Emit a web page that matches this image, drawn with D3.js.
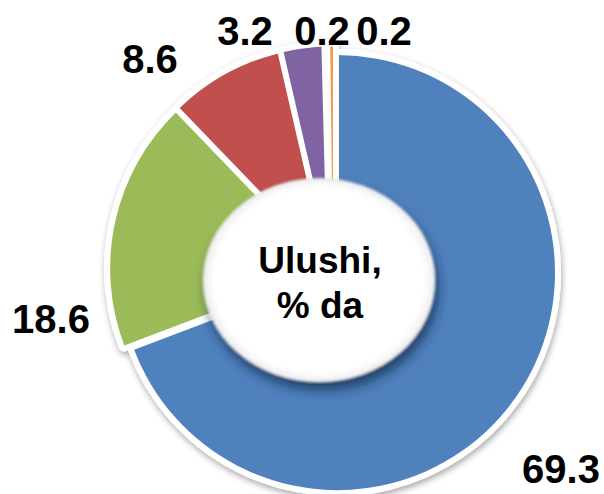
<!DOCTYPE html>
<html>
<head>
<meta charset="utf-8">
<script src="https://cdn.jsdelivr.net/npm/d3@7"></script>
<style>
  html, body { margin: 0; padding: 0; background: #fff; }
  svg { display: block; }
  text { font-family: "Liberation Sans", Arial, Helvetica, sans-serif; font-weight: bold; fill: #000; }
</style>
</head>
<body>
<svg id="chart" width="604" height="494"></svg>
<script>
// Shares, %
const values = [69.3, 18.6, 8.6, 3.2, 0.2, 0.2];
const valueLabels = ["69.3", "18.6", "8.6", "3.2", "0.2", "0.2"];
const sliceColors = ["#4F81BD", "#9BBB59", "#C0504D", "#8064A2", "#4BACC6", "#F79646"];
const centerTitle = ["Ulushi,", "% da"];

// Layout
const W = 604, H = 494;
const cx = 333, cy = 269.5, R = 217.5;
const explode = 5.5, border = 12;
const labelAnchors = [[561, 483], [51, 333], [150, 73], [245, 45], [322, 45], [384, 45]];
const hole = { x: 319, y: 280, rx: 116, ry: 102 };

const svg = d3.select("#chart");
const defs = svg.append("defs");

// soft shadow around the whole pie
const sh = defs.append("filter").attr("id", "pieShadow")
  .attr("x", "-10%").attr("y", "-10%").attr("width", "125%").attr("height", "125%");
sh.append("feGaussianBlur").attr("in", "SourceAlpha").attr("stdDeviation", 3).attr("result", "blur");
sh.append("feOffset").attr("in", "blur").attr("dx", 1).attr("dy", 3).attr("result", "off");
sh.append("feFlood").attr("flood-color", "#000").attr("flood-opacity", 0.35).attr("result", "col");
sh.append("feComposite").attr("in", "col").attr("in2", "off").attr("operator", "in").attr("result", "shadow");
const m1 = sh.append("feMerge");
m1.append("feMergeNode").attr("in", "shadow");
m1.append("feMergeNode").attr("in", "SourceGraphic");

// centre disc: dark drop shadow and slightly feathered edge
const ds = defs.append("filter").attr("id", "discShadow")
  .attr("x", "-20%").attr("y", "-20%").attr("width", "140%").attr("height", "145%");
ds.append("feGaussianBlur").attr("in", "SourceAlpha").attr("stdDeviation", 6).attr("result", "blur");
ds.append("feOffset").attr("in", "blur").attr("dx", 3).attr("dy", 8).attr("result", "off");
ds.append("feFlood").attr("flood-color", "#0e2340").attr("flood-opacity", 0.7).attr("result", "col");
ds.append("feComposite").attr("in", "col").attr("in2", "off").attr("operator", "in").attr("result", "shadow");
ds.append("feGaussianBlur").attr("in", "SourceGraphic").attr("stdDeviation", 1.2).attr("result", "soft");
const m2 = ds.append("feMerge");
m2.append("feMergeNode").attr("in", "shadow");
m2.append("feMergeNode").attr("in", "soft");

const grad = defs.append("radialGradient").attr("id", "discFill");
grad.append("stop").attr("offset", "0%").attr("stop-color", "#ffffff");
grad.append("stop").attr("offset", "90%").attr("stop-color", "#ffffff");
grad.append("stop").attr("offset", "97%").attr("stop-color", "#f3f3f3");
grad.append("stop").attr("offset", "100%").attr("stop-color", "#e2e2e2");

// pie slices
const pie = d3.pie().sort(null).value(d => d);
const arc = d3.arc().innerRadius(0).outerRadius(R);
const slices = pie(values);

const pieG = svg.append("g")
  .attr("transform", `translate(${cx},${cy})`)
  .attr("filter", "url(#pieShadow)");

pieG.selectAll("path")
  .data(slices)
  .join("path")
  .attr("transform", d => {
    const a = (d.startAngle + d.endAngle) / 2;
    return `translate(${explode * Math.sin(a)},${-explode * Math.cos(a)})`;
  })
  .attr("d", arc)
  .attr("fill", (d, i) => sliceColors[i])
  .attr("stroke", "#fff")
  .attr("stroke-width", border)
  .attr("stroke-linejoin", "round")
  .attr("paint-order", "stroke");

// centre disc
svg.append("ellipse")
  .attr("cx", hole.x).attr("cy", hole.y)
  .attr("rx", hole.rx).attr("ry", hole.ry)
  .attr("fill", "url(#discFill)")
  .attr("filter", "url(#discShadow)");

svg.append("text")
  .attr("x", hole.x + 1).attr("y", 273)
  .attr("text-anchor", "middle")
  .style("font-size", "37px")
  .text(centerTitle[0]);
svg.append("text")
  .attr("x", hole.x + 1).attr("y", 318)
  .attr("text-anchor", "middle")
  .style("font-size", "37px")
  .text(centerTitle[1]);

// value labels
svg.selectAll("text.val")
  .data(slices)
  .join("text")
  .attr("class", "val")
  .attr("x", (d, i) => labelAnchors[i][0])
  .attr("y", (d, i) => labelAnchors[i][1])
  .attr("text-anchor", "middle")
  .style("font-size", "40px")
  .text((d, i) => valueLabels[i]);
</script>
</body>
</html>
